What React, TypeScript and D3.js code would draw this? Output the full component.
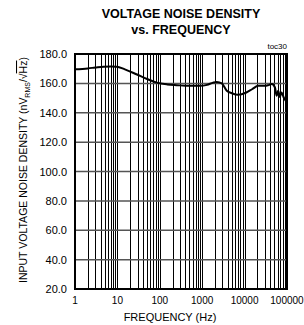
import React, { useEffect, useRef } from 'react';
import * as d3 from 'd3';

// frequency (Hz) and input voltage noise density (nV/rtHz)
const freqHz = [1, 2, 3, 4.7, 7, 9.6, 15, 28, 50, 85, 150, 250, 500, 890, 1300, 1800, 2200, 2900, 3800, 5000, 7000, 11000, 15000, 21000, 30000, 38000, 44000, 52000, 57000, 62000, 68000, 74000, 85000, 100000];
const noise = [169.6, 170.2, 170.8, 171.4, 171.5, 171.4, 169.5, 166.2, 163, 160.5, 159.3, 158.8, 158.3, 158.3, 159, 160.5, 161, 160, 155, 153.3, 152.2, 153.8, 156, 158.3, 158.3, 159, 159.5, 157.2, 151.5, 155, 150.8, 153.8, 150, 147];

const xTicks = [1, 10, 100, 1000, 10000, 100000];
const yTicks = [20, 40, 60, 80, 100, 120, 140, 160, 180];

const App = () => {
  const svgRef = useRef<SVGSVGElement>(null);

  useEffect(() => {
    const svg = d3.select(svgRef.current);
    svg.selectAll('*').remove();

    const width = 304;
    const height = 325;
    const margin = { top: 54, right: 17, bottom: 36, left: 75 };
    const font = 'Liberation Sans, Arial, sans-serif';

    svg.attr('width', width).attr('height', height);

    const x = d3.scaleLog().domain([1, 100000]).range([margin.left, width - margin.right]);
    const y = d3.scaleLinear().domain([20, 180]).range([height - margin.bottom, margin.top]);

    // title
    const title = svg.append('text')
      .attr('text-anchor', 'middle')
      .attr('font-family', font)
      .attr('font-weight', 'bold')
      .attr('font-size', 12.5)
      .attr('fill', '#000');
    title.append('tspan').attr('x', 181).attr('y', 18).text('VOLTAGE NOISE DENSITY');
    title.append('tspan').attr('x', 181).attr('y', 34).text('vs. FREQUENCY');

    svg.append('text')
      .attr('x', width - margin.right)
      .attr('y', margin.top - 5)
      .attr('text-anchor', 'end')
      .attr('font-family', font)
      .attr('font-size', 8)
      .text('toc30');

    // vertical grid, every 1..9 per decade
    const minor: number[] = [];
    for (let d = 0; d < 5; d++) {
      for (let m = 2; m <= 9; m++) minor.push(m * Math.pow(10, d));
    }
    minor.push(...xTicks.slice(1, -1));
    svg.append('g')
      .selectAll('line')
      .data(minor)
      .enter().append('line')
      .attr('x1', d => Math.round(x(d)) + 0.5)
      .attr('x2', d => Math.round(x(d)) + 0.5)
      .attr('y1', margin.top)
      .attr('y2', height - margin.bottom)
      .attr('stroke', '#000')
      .attr('stroke-width', 1);

    // horizontal grid
    svg.append('g')
      .selectAll('line')
      .data(yTicks.slice(1, -1))
      .enter().append('line')
      .attr('x1', margin.left)
      .attr('x2', width - margin.right)
      .attr('y1', d => y(d))
      .attr('y2', d => y(d))
      .attr('stroke', '#555')
      .attr('stroke-width', 1.5);

    // frame
    svg.append('rect')
      .attr('x', margin.left)
      .attr('y', margin.top)
      .attr('width', width - margin.left - margin.right)
      .attr('height', height - margin.top - margin.bottom)
      .attr('fill', 'none')
      .attr('stroke', '#000')
      .attr('stroke-width', 2);

    // tick labels
    svg.append('g')
      .selectAll('text')
      .data(yTicks)
      .enter().append('text')
      .attr('x', margin.left - 8)
      .attr('y', d => y(d) + 4)
      .attr('text-anchor', 'end')
      .attr('font-family', font)
      .attr('font-size', 11)
      .text(d => d.toFixed(1));

    svg.append('g')
      .selectAll('text')
      .data(xTicks)
      .enter().append('text')
      .attr('x', d => x(d))
      .attr('y', height - margin.bottom + 15)
      .attr('text-anchor', 'middle')
      .attr('font-family', font)
      .attr('font-size', 10)
      .text(d => String(d));

    // axis titles
    svg.append('text')
      .attr('x', 170)
      .attr('y', 321)
      .attr('text-anchor', 'middle')
      .attr('font-family', font)
      .attr('font-size', 11)
      .text('FREQUENCY (Hz)');

    const yl = svg.append('text')
      .attr('transform', 'translate(27,170) rotate(-90)')
      .attr('text-anchor', 'middle')
      .attr('font-family', font)
      .attr('font-size', 10.5);
    yl.append('tspan').text('INPUT VOLTAGE NOISE DENSITY (nV');
    yl.append('tspan').attr('font-size', 7).attr('dy', 3).text('RMS');
    yl.append('tspan').attr('dy', -3).text('/\u221A');
    yl.append('tspan').style('text-decoration', 'overline').text('Hz');
    yl.append('tspan').text(')');

    // noise curve
    const line = d3.line<number>()
      .x((d, i) => x(freqHz[i]))
      .y(d => y(d))
      .curve(d3.curveMonotoneX);

    svg.append('path')
      .datum(noise)
      .attr('d', line)
      .attr('fill', 'none')
      .attr('stroke', '#000')
      .attr('stroke-width', 2);
  }, []);

  return (
    <div style={{ position: 'absolute', left: 0, top: 0, background: '#fff' }}>
      <svg ref={svgRef}></svg>
    </div>
  );
};

export default App;
